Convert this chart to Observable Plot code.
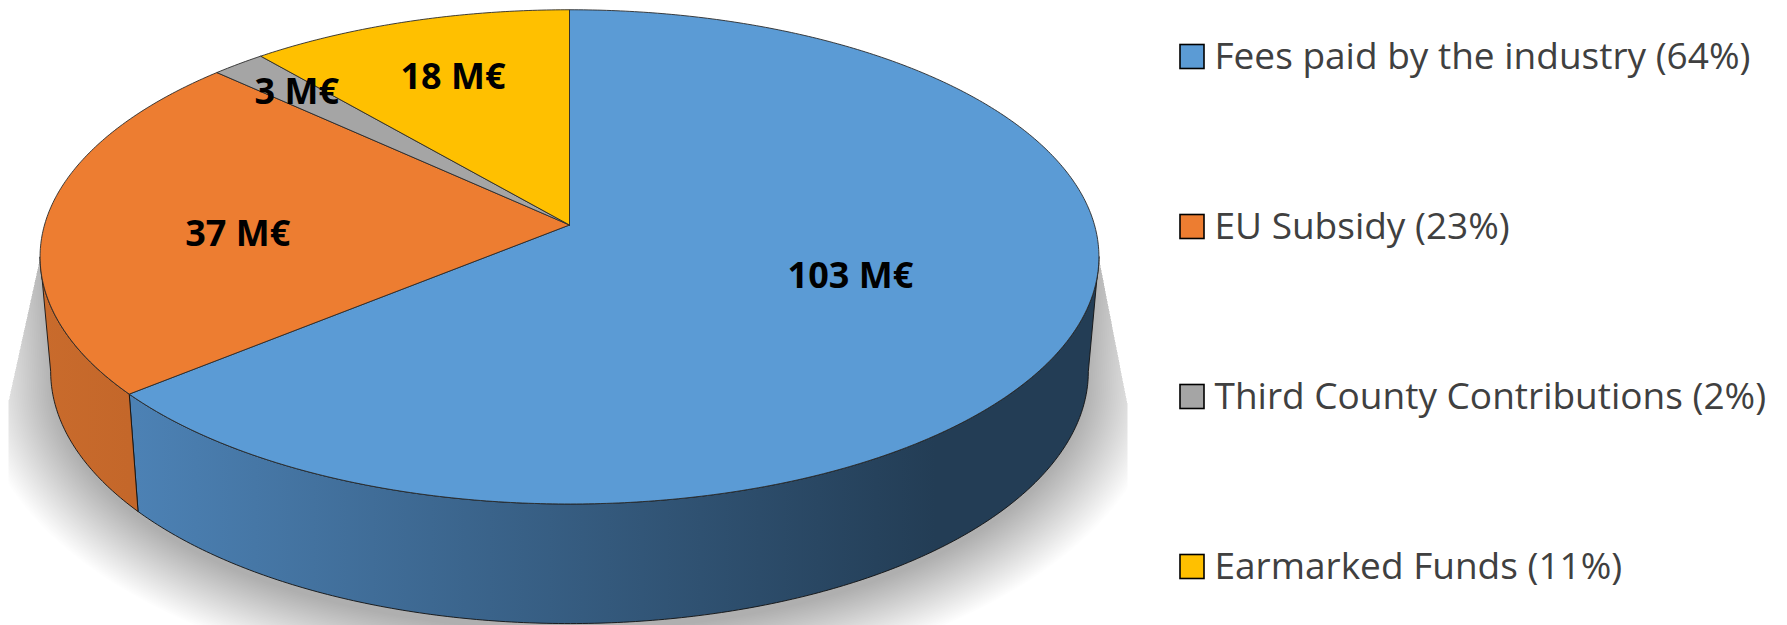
<!DOCTYPE html>
<html>
<head>
<meta charset="utf-8">
<script src="https://cdn.jsdelivr.net/npm/d3@7"></script>
<script src="https://cdn.jsdelivr.net/npm/@observablehq/plot@0.6"></script>
<style>
  html, body { margin: 0; padding: 0; background: #ffffff; }
  #chart svg { display: block; }
</style>
</head>
<body>
<div id="chart"></div>
<script>
// ---- data ----
const categories = ["Fees paid by the industry", "EU Subsidy", "Third County Contributions", "Earmarked Funds"];
const values = [103, 37, 3, 18];           // M€
const unit = "M€";
const topColors = ["#5b9bd5", "#ed7d31", "#a5a5a5", "#ffc000"];
const sideColors = [["#4c81b4", "#233d55"], ["#c96b2c", "#c4672a"], ["#8a8a8a", "#7a7a7a"], ["#d9a300", "#c99600"]];

// ---- layout ----
const W = 1787, H = 625;
const G = {cx: 569, cy: 224.5, A: 525, B: 243, p: 0.129, h: 114, bx: 0.98, by: 1.02};
const labelR = [0.56, 0.63, 0.81, 0.70];
const labelShiftDeg = [-3.6, -5.3, 0, 0];
const total = d3.sum(values);

function proj(theta, r, bottom) {
  const X = r * Math.sin(theta), Z = r * Math.cos(theta);
  const d = 1 + G.p * Z;
  if (!bottom) return {x: G.cx + G.A * X / d, y: G.cy - G.B * Z / d};
  return {x: G.cx + G.bx * G.A * X / d, y: G.cy + G.h - G.by * G.B * Z / d};
}
function arc(a0, a1, bottom, r = 1) {
  const n = Math.max(2, Math.ceil(Math.abs(a1 - a0) / 0.01));
  return d3.range(n + 1).map(k => proj(a0 + (a1 - a0) * k / n, r, bottom));
}

// slices
let acc = 0;
const slices = values.map((v, i) => {
  const a0 = acc / total * 2 * Math.PI; acc += v;
  const a1 = acc / total * 2 * Math.PI;
  return {i, v, a0, a1, mid: (a0 + a1) / 2, pct: Math.round(v / total * 100)};
});

// visible side range
const thR = Math.acos(-G.p), thL = 2 * Math.PI - thR;

const center = proj(0, 0, false);
const topPolys = slices.map(s => [center, ...arc(s.a0, s.a1, false), center]);
const sidePolys = [];
slices.forEach(s => {
  const s0 = Math.max(s.a0, thR), s1 = Math.min(s.a1, thL);
  if (s1 > s0) {
    const top = arc(s0, s1, false), bot = arc(s1, s0, true);
    sidePolys.push({i: s.i, pts: [...top, ...bot, top[0]], x0: top[0].x, x1: top[top.length - 1].x});
  }
});

// ---- soft shadow: stacked translucent enlarged bases, clipped to the plot area ----
const pTL = proj(thL, 1, false), pTR = proj(thR, 1, false);
const baseCy = G.cy + G.h;
const plotLeft = 8, plotRight = 1127;
const clipPoly = [pTL, {x: plotLeft, y: 400}, {x: plotLeft, y: H + 5}, {x: plotRight, y: H + 5}, {x: plotRight, y: 403}, pTR];

function clipConvex(subject, clip) {
  let area = 0;
  for (let i = 0; i < clip.length; i++) {
    const a = clip[i], b = clip[(i + 1) % clip.length];
    area += a.x * b.y - b.x * a.y;
  }
  const s = Math.sign(area);
  const side = (p, a, b) => s * ((b.x - a.x) * (p.y - a.y) - (b.y - a.y) * (p.x - a.x));
  let out = subject;
  for (let i = 0; i < clip.length && out.length; i++) {
    const a = clip[i], b = clip[(i + 1) % clip.length];
    const inp = out; out = [];
    for (let j = 0; j < inp.length; j++) {
      const P = inp[j], Q = inp[(j + 1) % inp.length];
      const sp = side(P, a, b), sq = side(Q, a, b);
      if (sp >= 0) out.push(P);
      if ((sp >= 0) !== (sq >= 0)) {
        const t = sp / (sp - sq);
        out.push({x: P.x + (Q.x - P.x) * t, y: P.y + (Q.y - P.y) * t});
      }
    }
  }
  return out;
}
function shadowShape(e) {
  const n = 160, pts = [];
  const topY = pTL.y - 60;
  pts.push({x: pTR.x + e, y: topY});
  for (let k = 0; k <= n; k++) {
    const t = thR + (thL - thR) * k / n;
    const X = Math.sin(t), Z = Math.cos(t), d = 1 + G.p * Z;
    pts.push({x: G.cx + (G.bx * G.A + e) * X / d, y: baseCy + 10 - (G.by * G.B + e * 0.75) * Z / d});
  }
  pts.push({x: pTL.x - e, y: topY});
  return pts;
}
const nLayers = 40, maxDark = 0.22;
const layerOpacity = 1 - Math.pow(1 - maxDark, 1 / nLayers);
const shadowLayers = [];
for (let k = 0; k < nLayers; k++) {
  const e = -4 + 76 * (k + 0.5) / nLayers;
  const poly = clipConvex(shadowShape(e), clipPoly);
  poly.forEach(p => shadowLayers.push({x: p.x, y: p.y, layer: k}));
}

// labels
const labels = slices.map(s => {
  const q = proj(s.mid + labelShiftDeg[s.i] * Math.PI / 180, labelR[s.i], false);
  return {x: q.x, y: q.y, text: `${s.v} ${unit}`};
});

// legend
const legend = categories.map((c, i) => ({
  y: 56.5 + i * 170,
  text: `${c} (${slices[i].pct}%)`,
  color: topColors[i]
}));

const defsMark = () => {
  const defs = d3.create("svg:defs");
  sidePolys.forEach(sp => {
    const g = defs.append("linearGradient").attr("id", "side" + sp.i)
      .attr("gradientUnits", "userSpaceOnUse")
      .attr("x1", sp.i === 0 ? 137 : sp.x1).attr("x2", sp.i === 0 ? 935 : sp.x0)
      .attr("y1", 0).attr("y2", 0);
    g.append("stop").attr("offset", 0).attr("stop-color", sideColors[sp.i][0]);
    g.append("stop").attr("offset", 1).attr("stop-color", sideColors[sp.i][1]);
  });
  return defs.node();
};

const marks = [defsMark,
  Plot.line(shadowLayers, {x: "x", y: "y", z: "layer", fill: "#000", fillOpacity: layerOpacity, stroke: "none"})
];
sidePolys.forEach(sp => {
  marks.push(Plot.line(sp.pts, {x: "x", y: "y", fill: `url(#side${sp.i})`, stroke: "#111", strokeWidth: 0.9, strokeLinejoin: "round"}));
});
topPolys.forEach((pts, i) => {
  marks.push(Plot.line(pts, {x: "x", y: "y", fill: topColors[i], stroke: "#2a2a2a", strokeWidth: 0.9, strokeLinejoin: "round"}));
});
marks.push(Plot.text(labels, {x: "x", y: "y", text: "text", fill: "#000", fontSize: 36, fontWeight: "bold", fontFamily: "Open Sans", textAnchor: "middle", lineAnchor: "middle"}));
marks.push(Plot.rect(legend, {x1: () => 1180, x2: () => 1204, y1: d => d.y - 12, y2: d => d.y + 12, fill: d => d.color, stroke: "#000", strokeWidth: 1.6}));
marks.push(Plot.text(legend, {x: () => 1214, y: "y", text: "text", fill: "#404040", fontSize: 37, fontFamily: "Open Sans", textAnchor: "start", lineAnchor: "middle"}));

const svg = Plot.plot({
  width: W, height: H,
  margin: 0, marginTop: 0, marginRight: 0, marginBottom: 0, marginLeft: 0,
  x: {type: "linear", domain: [0, W], range: [0, W], axis: null},
  y: {type: "linear", domain: [0, H], range: [0, H], axis: null},
  color: {type: "identity"},
  style: {background: "#ffffff", overflow: "hidden"},
  marks
});
document.getElementById("chart").appendChild(svg);
</script>
</body>
</html>
